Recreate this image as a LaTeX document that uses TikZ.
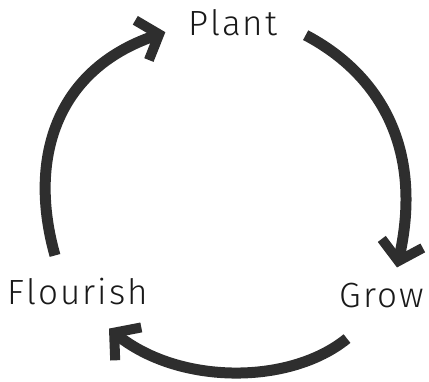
\documentclass[tikz,border=0pt]{standalone}
\usepackage{fontspec}
\setmainfont{Fira Sans}[UprightFont=* Light,LetterSpace=6]
\usepackage{xcolor}
\usetikzlibrary{arrows.meta}
\definecolor{inkgray}{HTML}{2E2E2E}

\begin{document}
\begin{tikzpicture}[x=1pt,y=-1pt,
    stage/.style={inner sep=0pt,anchor=base,font=\fontsize{35}{40}\selectfont,text=black!90},
    cycle/.style={draw=inkgray,line width=11pt,
      -{Straight Barb[length=18pt,width=42pt,line width=10pt]}}]
  \useasboundingbox (0,0) rectangle (429,382);

  % the three stages of the cycle
  \node[stage] (plant) at (233,36) {Plant};
  \node[stage] (grow) at (382,308) {Grow};
  \node[stage] (flourish) at (78,305) {Flourish};

  % Plant -> Grow
  \draw[cycle] ([shift={(28,12)}]plant.east)
    .. controls (372,70) and (425,140) .. ([shift={(15,-16)}]grow.north);
  % Grow -> Flourish
  \draw[cycle] ([shift={(-35,30)}]grow.south)
    .. controls (290,385) and (180,385) .. ([shift={(31,23)}]flourish.south);
  % Flourish -> Plant
  \draw[cycle] ([shift={(-23,-23)}]flourish.north)
    .. controls (28,160) and (55,70) .. ([shift={(-23,9)}]plant.west);
\end{tikzpicture}
\end{document}
